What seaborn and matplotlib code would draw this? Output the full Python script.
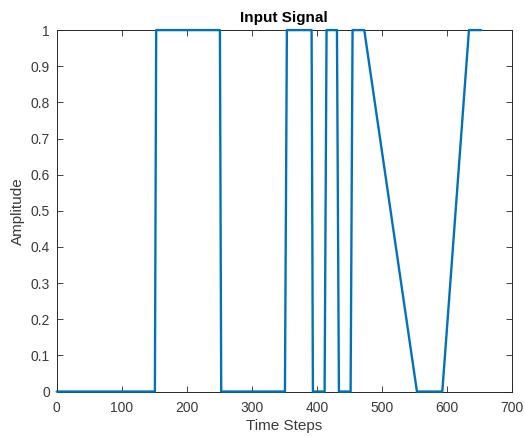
import numpy as np
import pandas as pd
import matplotlib
matplotlib.use('Agg')
import matplotlib.pyplot as plt
import seaborn as sns

# ─── DATA ─────────────────────────────────────────────────────────────────────
# breakpoints of the input signal
time_steps = [0, 151, 153, 251, 253, 351, 354, 392, 394, 412, 415,
              431, 434, 452, 455, 473, 554, 593, 634, 653]
amplitude  = [0, 0, 1, 1, 0, 0, 1, 1, 0, 0, 1,
              1, 0, 0, 1, 1, 0, 0, 1, 1]

x_ticks = [0, 100, 200, 300, 400, 500, 600, 700]
y_ticks = [0, 0.1, 0.2, 0.3, 0.4, 0.5, 0.6, 0.7, 0.8, 0.9, 1]

# ─── STYLE ────────────────────────────────────────────────────────────────────
sns.set_theme(style='ticks')
plt.rcParams['font.family'] = ['Liberation Sans', 'DejaVu Sans']
AX_COLOR = '#262626'
TICK_TEXT = '#3a3a3a'
LINE_COLOR = '#0072BD'

df = pd.DataFrame({'Time Steps': time_steps, 'Amplitude': amplitude})

fig = plt.figure(figsize=(5.25, 4.36), dpi=100)
ax = fig.add_axes([0.108, 0.102, 0.867, 0.829])

sns.lineplot(data=df, x='Time Steps', y='Amplitude', ax=ax,
             color=LINE_COLOR, linewidth=1.7, sort=False)
# draw the signal over the box like MATLAB does
for ln in ax.lines:
    ln.set_clip_on(False)
    ln.set_zorder(5)

ax.set_xlim(0, 700)
ax.set_ylim(0, 1)
ax.set_xticks(x_ticks)
ax.set_yticks(y_ticks)
ax.set_xticklabels([str(t) for t in x_ticks])
ax.set_yticklabels([f'{t:g}' for t in y_ticks])

ax.tick_params(direction='in', length=4, width=0.6, color=AX_COLOR,
               labelcolor=TICK_TEXT, labelsize=10, top=True, right=True)
ax.tick_params(axis='x', pad=7)
ax.tick_params(axis='y', pad=5)
for s in ax.spines.values():
    s.set_visible(True)
    s.set_color(AX_COLOR)
    s.set_linewidth(0.7)
    s.set_zorder(2)

ax.set_xlabel('Time Steps', fontsize=11, color=TICK_TEXT, labelpad=3)
ax.set_ylabel('Amplitude', fontsize=11, color=TICK_TEXT, labelpad=4)
ax.set_title('Input Signal', fontsize=11, fontweight='bold', color='black', pad=6)

fig.savefig('out.png', dpi=100)
plt.close(fig)
